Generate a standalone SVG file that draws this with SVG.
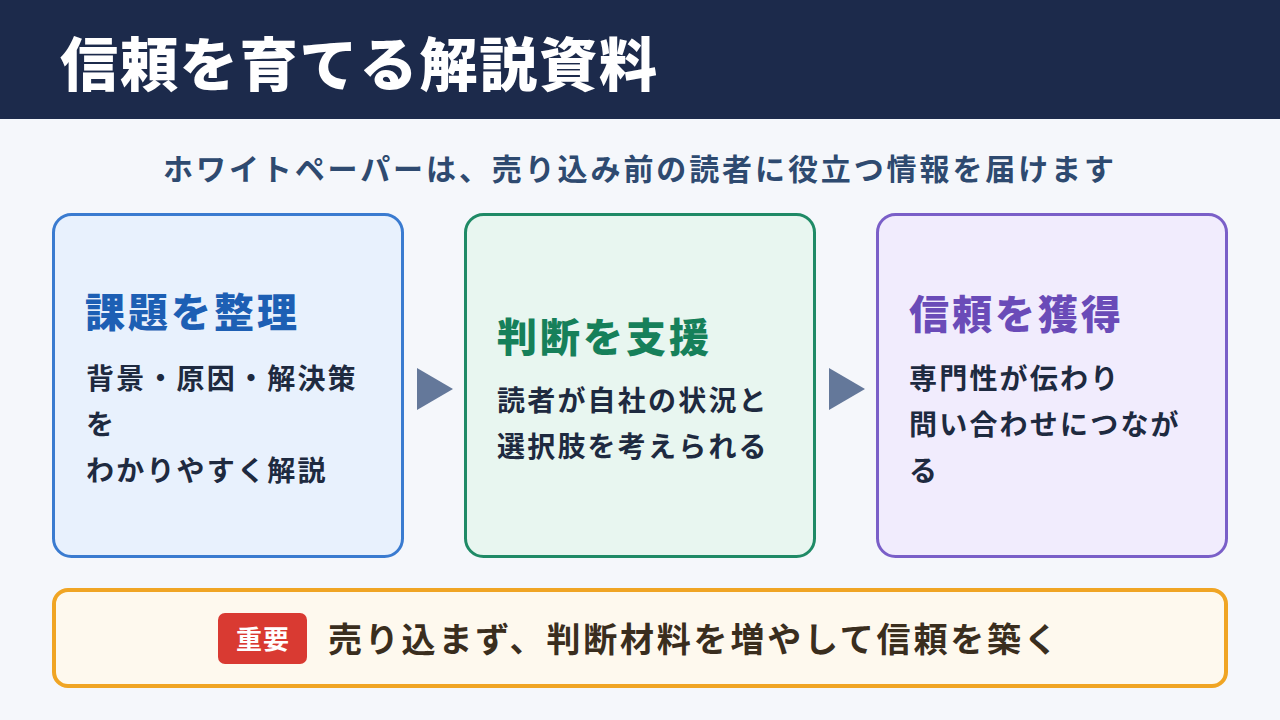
<svg xmlns="http://www.w3.org/2000/svg" width="1280" height="720" viewBox="0 0 1280 720">
<style>
text{font-family:"Noto Sans CJK JP","Noto Sans",sans-serif;font-weight:700}
.title{font-size:58px;fill:#ffffff;letter-spacing:1.9px;font-weight:900}
.sub{font-size:30px;fill:#2e4a70;letter-spacing:2.9px}
.card{stroke-width:3}
.h{font-size:40px;letter-spacing:3px;font-weight:900}
.b{font-size:28px;fill:#1e2a40;letter-spacing:2.2px}
.arrow{fill:#64789a}
</style>
<rect x="0" y="0" width="1280" height="720" fill="#f5f7fb"/>
<g id="header">
<rect x="0" y="0" width="1280" height="119" fill="#1c2a4b"/>
<text class="title" x="60" y="86">信頼を育てる解説資料</text>
</g>
<g id="subtitle">
<text class="sub" x="640" y="180" text-anchor="middle">ホワイトペーパーは、売り込み前の読者に役立つ情報を届けます</text>
</g>
<g id="card1">
<rect class="card" x="53.5" y="214.5" width="349" height="342" rx="18" fill="#e8f1fd" stroke="#3a7bd0"/>
<text class="h" x="85" y="327" fill="#1d5fb4">課題を整理</text>
<text class="b" x="86" y="389">背景・原因・解決策</text>
<text class="b" x="86" y="435">を</text>
<text class="b" x="86" y="481">わかりやすく解説</text>
</g>
<g id="card2">
<rect class="card" x="465.5" y="214.5" width="349" height="342" rx="18" fill="#e8f6f0" stroke="#1f8a66"/>
<text class="h" x="497" y="352" fill="#16805a">判断を支援</text>
<text class="b" x="497" y="411">読者が自社の状況と</text>
<text class="b" x="497" y="457">選択肢を考えられる</text>
</g>
<g id="card3">
<rect class="card" x="877.5" y="214.5" width="349" height="342" rx="18" fill="#f1ecfd" stroke="#7a5fc8"/>
<text class="h" x="909" y="329" fill="#6a4bb8">信頼を獲得</text>
<text class="b" x="909" y="389">専門性が伝わり</text>
<text class="b" x="909" y="435">問い合わせにつなが</text>
<text class="b" x="909" y="481">る</text>
</g>
<g id="connectors">
<polygon class="arrow" points="417,368 453,389 417,410"/>
<polygon class="arrow" points="829,368 865,389 829,410"/>
</g>
<g id="banner">
<rect x="54" y="590" width="1172" height="96" rx="14" fill="#fef9ee" stroke="#f0a524" stroke-width="4"/>
<rect x="218" y="613" width="89" height="51" rx="7" fill="#d93a32"/>
<text x="263" y="649" text-anchor="middle" font-size="26" fill="#ffffff" letter-spacing="1" font-weight="900">重要</text>
<text x="328" y="652" font-size="34" fill="#3a2e1e" letter-spacing="2.8" font-weight="900">売り込まず、判断材料を増やして信頼を築く</text>
</g>
</svg>
